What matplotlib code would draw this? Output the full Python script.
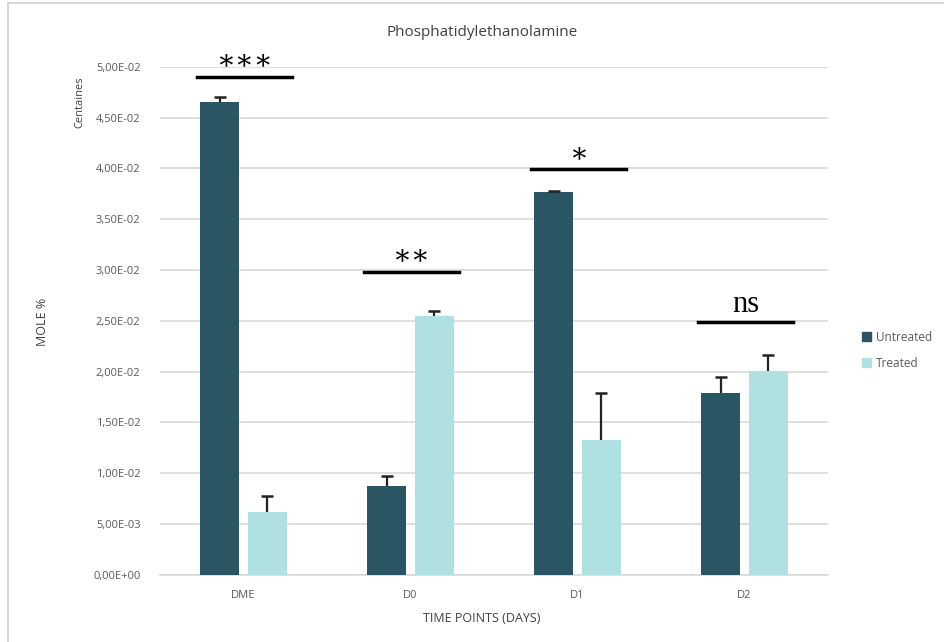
import numpy as np
import matplotlib
matplotlib.use("Agg")
import matplotlib.pyplot as plt
from matplotlib.ticker import FuncFormatter
from matplotlib.lines import Line2D

# values
categories = ["DME", "D0", "D1", "D2"]
untreated = [0.04658, 0.00878, 0.0377, 0.01785]
untreated_err = [0.0004, 0.0009, 0.0001, 0.0016]
treated = [0.00614, 0.02547, 0.01331, 0.02005]
treated_err = [0.0016, 0.0005, 0.0046, 0.0016]
sig_labels = ["***", "**", "*", "ns"]
sig_heights = [0.0490, 0.0298, 0.0399, 0.02485]

dark = "#2A5563"
light = "#AFE1E2"
grey_txt = "#595959"

plt.rcParams["font.family"] = ["Open Sans", "DejaVu Sans"]

fig = plt.figure(figsize=(9.44, 6.42), dpi=100)
ax = fig.add_axes([160 / 944, 1 - 574.8 / 642, (828 - 160) / 944, (574.8 - 66.8) / 642])

x = np.arange(len(categories))
w = 0.233
off = 0.142
ax.bar(x - off, untreated, w, color=dark, label="Untreated", zorder=3)
ax.bar(x + off, treated, w, color=light, label="Treated", zorder=3)

# only the upper half of each error bar is shown
for xs, vals, errs in [(x - off, untreated, untreated_err), (x + off, treated, treated_err)]:
    eb = ax.errorbar(xs, vals, yerr=[[0] * len(vals), errs], fmt="none", ecolor="#222222",
                     elinewidth=1.6, capsize=4, capthick=1.8, zorder=4)
    eb[1][0].set_visible(False)

ax.set_xlim(-0.5, len(categories) - 0.5)
ax.set_ylim(0, 0.05)
ax.set_yticks(np.arange(0, 0.0501, 0.005))
ax.yaxis.set_major_formatter(FuncFormatter(lambda v, p: ("%.2E" % v).replace(".", ",")))
ax.set_xticks(x)
ax.set_xticklabels(categories)
ax.tick_params(axis="both", length=0, labelsize=8, colors=grey_txt, pad=14)
ax.tick_params(axis="x", pad=11)
ax.grid(axis="y", color="#D9D9D9", linewidth=1.2, zorder=0)
for s in ["top", "right", "left"]:
    ax.spines[s].set_visible(False)
ax.spines["bottom"].set_color("#D9D9D9")
ax.spines["bottom"].set_linewidth(1.2)

# significance bars
for i, (lab, h) in enumerate(zip(sig_labels, sig_heights)):
    ax.plot([i - 0.28, i + 0.29], [h, h], color="black", lw=2.5, zorder=4, clip_on=False)
    if lab == "ns":
        ax.annotate(lab, (i + 0.01, h), xytext=(0, 12.5), textcoords="offset points",
                    ha="center", va="center", fontsize=22, family="Liberation Serif")
    else:
        ax.annotate("\u2217" * len(lab), (i + 0.005, h), xytext=(0, 11.5),
                    textcoords="offset points", ha="center", va="center", fontsize=20,
                    family="DejaVu Serif")

fig.text(482 / 944, 1 - 32 / 642, "Phosphatidylethanolamine", ha="center", va="center",
         fontsize=11, color="#404040")
fig.text(42 / 944, 1 - 322 / 642, "MOLE %", rotation=90, ha="center", va="center",
         fontsize=9, color="#404040")
fig.text(80 / 944, 1 - 102 / 642, "Centaines", rotation=90, ha="center", va="center",
         fontsize=8, color="#404040")
fig.text(482 / 944, 1 - 618 / 642, "TIME POINTS (DAYS)", ha="center", va="center",
         fontsize=9, color="#404040")

leg = fig.legend(handles=[plt.Rectangle((0, 0), 1, 1, color=dark), plt.Rectangle((0, 0), 1, 1, color=light)],
                 labels=["Untreated", "Treated"], loc="upper left",
                 bbox_to_anchor=(851 / 944, 1 - 320 / 642), frameon=False, fontsize=8.5,
                 handlelength=0.8, handleheight=0.8, handletextpad=0.4, labelspacing=1.1,
                 labelcolor=grey_txt)

# outer chart border (left and top)
fig.add_artist(Line2D([7.5 / 944, 7.5 / 944], [0, 1 - 2.5 / 642], transform=fig.transFigure,
                      color="#D0D0D0", lw=1.2))
fig.add_artist(Line2D([7.5 / 944, 1], [1 - 2.5 / 642, 1 - 2.5 / 642], transform=fig.transFigure,
                      color="#D0D0D0", lw=1.2))

fig.savefig("out.png", dpi=100)
